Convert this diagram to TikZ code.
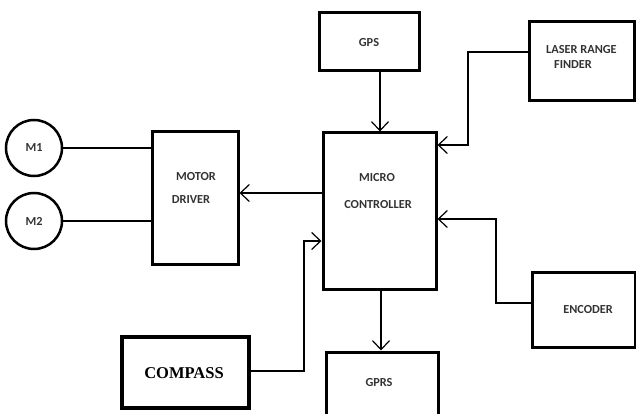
\documentclass[tikz,border=0pt]{standalone}
\usepackage{fontspec}
\setmainfont{Carlito}
\newfontfamily\timesfont{Liberation Serif}
\usetikzlibrary{arrows.meta}
\tikzset{
  box/.style={draw=black, line width=3pt, rectangle, inner sep=0pt},
  motor/.style={draw=black, line width=2.5pt, circle, inner sep=0pt, minimum size=56pt},
  lbl/.style={font=\bfseries\fontsize{12.3}{14}\selectfont, text=black!80, inner sep=0pt},
  wire/.style={draw=black, line width=2.5pt},
  arr/.style={wire, -{Straight Barb[length=9pt,width=17pt,line width=1.2pt]}},
  thinarr/.style={draw=black, line width=1.3pt, -{Straight Barb[length=9pt,width=17pt,line width=1.2pt]}}
}
\begin{document}
\begin{tikzpicture}[x=1pt,y=-1pt]
\useasboundingbox (0,0) rectangle (636,414);
\clip (0,0) rectangle (636,414);
% boxes
\node[box, minimum width=100pt, minimum height=58pt] (gps) at (369,42) {};
\node[box, minimum width=105pt, minimum height=79pt] (laser) at (581.5,61.5) {};
\node[box, minimum width=86pt, minimum height=132pt] (md) at (195,198) {};
\node[box, minimum width=113pt, minimum height=156pt] (mc) at (379.5,211) {};
\node[box, minimum width=103pt, minimum height=75pt] (enc) at (583.5,309.5) {};
\node[box, minimum width=112pt, minimum height=76pt] (gprs) at (382,390) {};
\node[box, line width=4pt, minimum width=127pt, minimum height=71pt] (comp) at (185.5,372.5) {};
\node[motor] (m1) at (34,148) {};
\node[motor] (m2) at (34,221) {};
% texts
\node[lbl] (tgps) at (369,43) {GPS};
\node[lbl, anchor=west] (tlaser1) at (546,50) {LASER RANGE};
\node[lbl, anchor=west] (tlaser2) at (554,65) {FINDER};
\node[lbl] (tmd1) at (196,177) {MOTOR};
\node[lbl] (tmd2) at (191,200) {DRIVER};
\node[lbl] (tmc1) at (377,178) {MICRO};
\node[lbl] (tmc2) at (378,205) {CONTROLLER};
\node[lbl] (tenc) at (588,310) {ENCODER};
\node[lbl] (tgprs) at (379,383) {GPRS};
\node[font=\timesfont\bfseries\fontsize{16.5}{18}\selectfont, inner sep=0pt] (tcomp) at (184,373) {COMPASS};
\node[lbl] (tm1) at (34,148) {M1};
\node[lbl] (tm2) at (34,221) {M2};
% connectors
\draw[wire] (m1.east) -- (m1.east -| md.west);
\draw[wire] (m2.east) -- (m2.east -| md.west);
\draw[arr] (mc.west |- 0,193) -- (md.east |- 0,193);
\draw[arr] (gps.south -| 380,0) -- (mc.north -| 380,0);
\draw[arr] (laser.west |- 0,52) -| (468,145) -- (mc.east |- 0,145);
\draw[arr] (enc.west |- 0,303) -| (496,219) -- (mc.east |- 0,219);
\draw[thinarr] (comp.east |- 0,371) -| (304,241) -- (mc.west |- 0,241);
\draw[arr] (mc.south -| 381,0) -- (gprs.north -| 381,0);
\end{tikzpicture}
\end{document}
